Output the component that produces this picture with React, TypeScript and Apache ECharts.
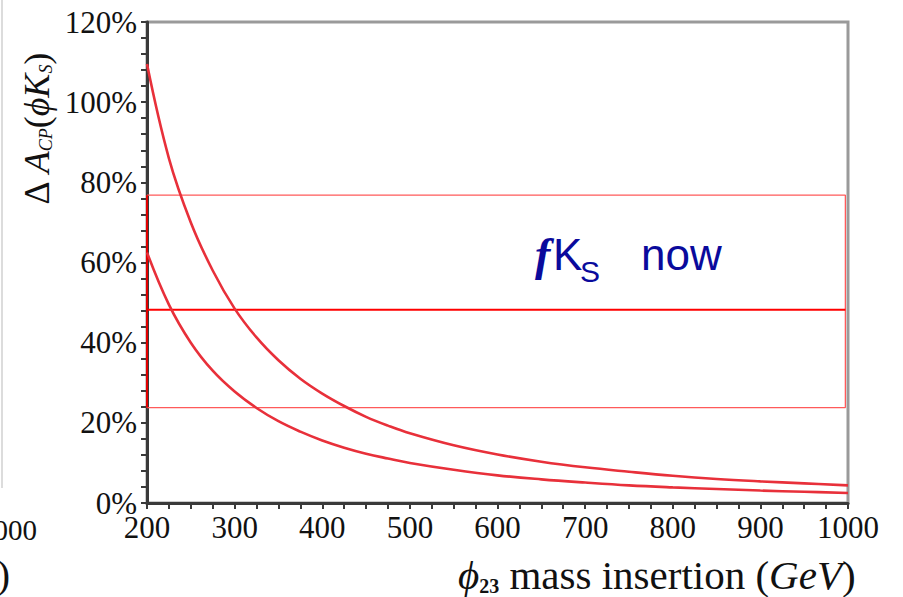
import React, { useEffect, useRef } from "react";
import * as echarts from "echarts";

// x: phi_23 mass insertion (GeV)
const massGeV = [200, 225, 250, 275, 300, 325, 350, 375, 400, 425, 450, 475, 500, 550, 600, 650, 700, 750, 800, 850, 900, 950, 1000];
// upper curve, ΔA_CP in %
const upperCurve = [109.5, 86, 70, 58, 48.5, 41.3, 35.6, 31, 27.3, 24.2, 21.5, 19.3, 17.4, 14.4, 12.1, 10.3, 8.9, 7.8, 6.8, 6.0, 5.4, 4.9, 4.4];
// lower curve, ΔA_CP in %
const lowerCurve = [62.5, 49.5, 40, 33, 27.8, 23.7, 20.4, 17.8, 15.6, 13.8, 12.3, 11.1, 10.0, 8.3, 6.9, 5.9, 5.1, 4.4, 3.9, 3.5, 3.1, 2.8, 2.5];

// φK_S "now" band (percent)
const bandTop = 76.8;
const bandCentre = 48.2;
const bandBottom = 23.8;
const bandLeft = 200;
const bandRight = 997;

const yTicks = [0, 20, 40, 60, 80, 100, 120];
const xTicks = [200, 300, 400, 500, 600, 700, 800, 900, 1000];

export default function App() {
  const ref = useRef<HTMLDivElement>(null);
  useEffect(() => {
    if (!ref.current) return;
    const chart = echarts.init(ref.current, null, { renderer: "svg" });
    const serif = "'Liberation Serif', 'DejaVu Serif', serif";
    const axisColor = "#3a3a3a";
    const curveColor = "#e8303a";
    const textColor = "#111111";
    const bandBox = [
      [bandLeft, bandTop],
      [bandRight, bandTop],
      [bandRight, bandBottom],
      [bandLeft, bandBottom],
    ];
    chart.setOption({
      animation: false,
      backgroundColor: "#ffffff",
      grid: {
        left: 147,
        right: 55,
        top: 22,
        bottom: 94,
        show: true,
        borderColor: "#9a9a9a",
        borderWidth: 3,
        backgroundColor: "transparent",
      },
      xAxis: {
        type: "value",
        min: xTicks[0],
        max: xTicks[xTicks.length - 1],
        interval: 100,
        axisLine: { show: true, onZero: false, lineStyle: { color: axisColor, width: 3 } },
        axisTick: { show: true, length: 6, lineStyle: { color: axisColor, width: 2 } },
        minorTick: { show: true, splitNumber: 4, length: 6, lineStyle: { color: axisColor, width: 2 } },
        splitLine: { show: false },
        axisLabel: {
          margin: 9,
          color: textColor,
          fontFamily: serif,
          fontSize: 31,
          showMinLabel: true,
          showMaxLabel: true,
          formatter: (v: number) => String(v),
        },
      },
      yAxis: {
        type: "value",
        min: yTicks[0],
        max: yTicks[yTicks.length - 1],
        interval: 20,
        axisLine: { show: true, onZero: false, lineStyle: { color: axisColor, width: 3 } },
        axisTick: { show: true, length: 6, lineStyle: { color: axisColor, width: 2 } },
        minorTick: { show: true, splitNumber: 5, length: 6, lineStyle: { color: axisColor, width: 2 } },
        splitLine: { show: false },
        axisLabel: {
          margin: 10,
          color: textColor,
          fontFamily: serif,
          fontSize: 31,
          formatter: "{value}%",
        },
      },
      series: [
        {
          type: "line",
          data: bandBox.concat([bandBox[0]]),
          symbol: "none",
          lineStyle: { color: "#ff5a5a", width: 1.3 },
          silent: true,
          z: 2,
        },
        {
          type: "line",
          data: [
            [bandLeft, bandCentre],
            [bandRight, bandCentre],
          ],
          symbol: "none",
          lineStyle: { color: "#ff0000", width: 2 },
          silent: true,
          z: 2,
        },
        {
          type: "line",
          data: [
            [bandLeft, bandBottom],
            [bandLeft, bandTop],
          ],
          symbol: "none",
          lineStyle: { color: "#e00000", width: 2 },
          silent: true,
          z: 2,
        },
        {
          type: "line",
          data: massGeV.map((m, i) => [m, upperCurve[i]]),
          symbol: "none",
          smooth: 0.4,
          lineStyle: { color: curveColor, width: 2.6 },
          z: 3,
        },
        {
          type: "line",
          data: massGeV.map((m, i) => [m, lowerCurve[i]]),
          symbol: "none",
          smooth: 0.4,
          lineStyle: { color: curveColor, width: 2.6 },
          z: 3,
        },
      ],
      graphic: [
        {
          type: "line",
          shape: { x1: 2, y1: 0, x2: 2, y2: 488 },
          style: { stroke: "#d0d0d0", lineWidth: 1.5 },
        },
        {
          type: "text",
          x: 37,
          y: 530,
          style: { text: "000", font: `29px ${serif}`, fill: textColor, align: "right", verticalAlign: "middle" },
        },
        {
          type: "text",
          x: 10,
          y: 574,
          style: { text: ")", font: `40px ${serif}`, fill: textColor, align: "right", verticalAlign: "middle" },
        },
        {
          type: "text",
          x: 37,
          y: 129,
          rotation: Math.PI / 2,
          style: {
            text: "{d|Δ }{a|A}{s|CP}{d|(}{a|ϕK}{s|S}{d|)}",
            align: "center",
            verticalAlign: "middle",
            fill: textColor,
            rich: {
              d: { fontFamily: serif, fontSize: 36, fill: textColor },
              a: { fontFamily: serif, fontSize: 36, fontStyle: "italic", fill: textColor },
              s: { fontFamily: serif, fontSize: 18, fontStyle: "italic", fill: textColor, verticalAlign: "bottom", padding: [12, 0, 0, 0] },
            },
          },
        },
        {
          type: "text",
          x: 458,
          y: 575,
          style: {
            text: "{p|ϕ}{sb|23}{n| mass insertion (}{i|GeV}{n|)}",
            verticalAlign: "middle",
            fill: textColor,
            rich: {
              p: { fontFamily: serif, fontSize: 41, fontStyle: "italic", fill: textColor },
              sb: { fontFamily: serif, fontSize: 20, fontWeight: "bold", fill: textColor, verticalAlign: "bottom", padding: [16, 0, 0, 0] },
              n: { fontFamily: serif, fontSize: 41, fill: textColor },
              i: { fontFamily: serif, fontSize: 41, fontStyle: "italic", fill: textColor },
            },
          },
        },
        {
          type: "text",
          x: 535,
          y: 254,
          style: {
            text: "f",
            font: `italic bold 46px ${serif}`,
            fill: "#0a0a9c",
            verticalAlign: "middle",
          },
        },
        {
          type: "text",
          x: 553,
          y: 254,
          style: {
            text: "K",
            font: "44px 'Liberation Sans', sans-serif",
            fill: "#0a0a9c",
            verticalAlign: "middle",
          },
        },
        {
          type: "text",
          x: 580,
          y: 271,
          style: {
            text: "S",
            font: "30px 'Liberation Sans', sans-serif",
            fill: "#0a0a9c",
            verticalAlign: "middle",
          },
        },
        {
          type: "text",
          x: 641,
          y: 254,
          style: {
            text: "now",
            font: "44px 'Liberation Sans', sans-serif",
            fill: "#0a0a9c",
            verticalAlign: "middle",
          },
        },
      ],
    });
    return () => chart.dispose();
  }, []);
  return <div ref={ref} style={{ width: 903, height: 597, position: "absolute", left: 0, top: 0 }} />;
}
